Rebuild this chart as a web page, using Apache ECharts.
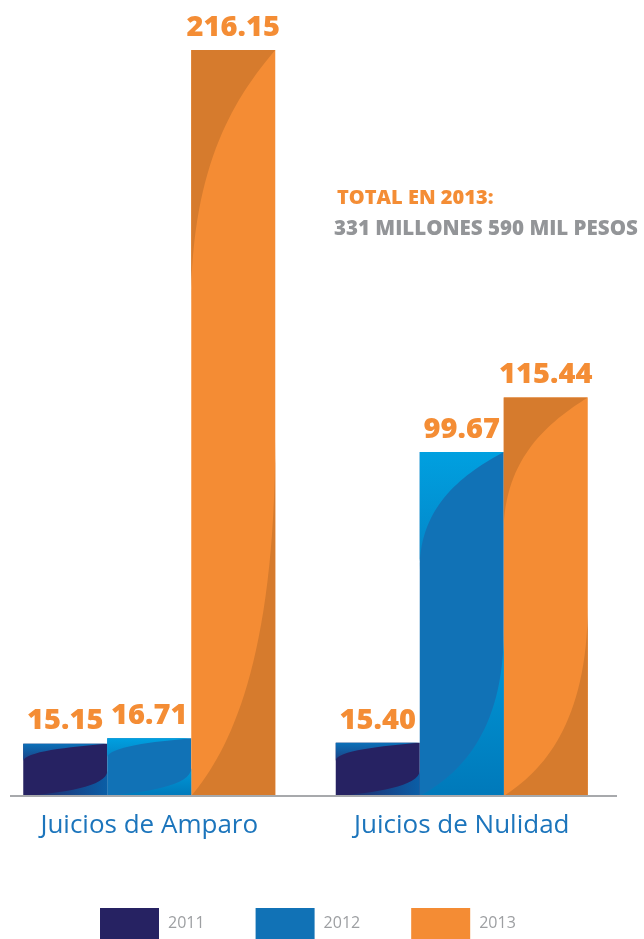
<!DOCTYPE html>
<html>
<head>
<meta charset="utf-8">
<script src="https://cdn.jsdelivr.net/npm/echarts@6/dist/echarts.min.js"></script>
<style>
  html, body { margin: 0; padding: 0; background: #fff; }
  #chart { width: 644px; height: 939px; }
</style>
</head>
<body>
<div id="chart"></div>
<script>
// datos (millones de pesos)
const categories = ['Juicios de Amparo', 'Juicios de Nulidad']
const years = ['2011', '2012', '2013']
const values2011 = [15.15, 15.40]
const values2012 = [16.71, 99.67]
const values2013 = [216.15, 115.44]
const seriesValues = [values2011, values2012, values2013]

const mainColors = ['#262262', '#1172b6', '#f48c34']
// colores de las esquinas curvas: [arriba-inicio, arriba-fin, abajo-inicio, abajo-fin]
const cornerColors = [
  ['#0b70b8', '#1c3f82', '#262262', '#0a5ea6'],
  ['#00a0e0', '#0384c6', '#0099d9', '#0079ba'],
  ['#d67b2d', '#d67b2d', '#d67b2d', '#d67b2d']
]
const labelColor = '#f48d35'
const BAR_W = 84

function grad(c0, c1, horizontal) {
  return new echarts.graphic.LinearGradient(0, 0, horizontal ? 1 : 0, horizontal ? 0 : 1, [
    { offset: 0, color: c0 },
    { offset: 1, color: c1 }
  ])
}

// dibuja las esquinas curvas encima de la barra
function makeOverlay(k) {
  return function (params, api) {
    const top = api.coord([api.value(0), api.value(1)])
    const bot = api.coord([api.value(0), 0])
    const cx = top[0] + (k - 1) * BAR_W
    const x0 = cx - BAR_W / 2
    const x1 = cx + BAR_W / 2
    const y0 = top[1]
    const y1 = bot[1]
    const h = y1 - y0
    const w = x1 - x0
    const c = cornerColors[k]
    const topPath = 'M' + x0 + ' ' + y0 + ' L' + x1 + ' ' + y0 +
      ' C' + (x1 - w * 0.45) + ' ' + (y0 + h * 0.06) + ' ' + x0 + ' ' + (y0 + h * 0.15) + ' ' + x0 + ' ' + (y0 + h * 0.34) + ' Z'
    const botPath = 'M' + x1 + ' ' + y1 + ' L' + x0 + ' ' + y1 +
      ' C' + (x0 + w * 0.45) + ' ' + (y1 - h * 0.06) + ' ' + x1 + ' ' + (y1 - h * 0.18) + ' ' + x1 + ' ' + (y1 - h * 0.48) + ' Z'
    return {
      type: 'group',
      children: [
        { type: 'path', shape: { pathData: topPath }, style: { fill: grad(c[0], c[1], false) } },
        { type: 'path', shape: { pathData: botPath }, style: { fill: grad(c[2], c[3], k === 0) } }
      ]
    }
  }
}

const chart = echarts.init(document.getElementById('chart'))

const barSeries = years.map((y, k) => ({
  name: y,
  type: 'bar',
  data: seriesValues[k],
  barWidth: BAR_W,
  barGap: '0%',
  itemStyle: { color: mainColors[k] },
  label: {
    show: true,
    position: 'top',
    distance: 8,
    formatter: (p) => p.value.toFixed(2),
    color: labelColor,
    fontFamily: 'Open Sans',
    fontWeight: 800,
    fontSize: 29
  },
  z: 2
}))

const overlaySeries = years.map((y, k) => ({
  name: 'curva ' + y,
  type: 'custom',
  silent: true,
  renderItem: makeOverlay(k),
  data: seriesValues[k].map((v, i) => [i, v]),
  encode: { x: 0, y: 1 },
  z: 3
}))

const option = {
  animation: false,
  grid: { left: -7, right: 26, top: 50, bottom: 143, outerBoundsMode: 'none', containLabel: false },
  legend: {
    data: years,
    left: 100,
    top: 908,
    padding: 0,
    itemWidth: 59,
    itemHeight: 31,
    itemGap: 51,
    icon: 'rect',
    textStyle: {
      color: '#9d9fa2',
      fontFamily: 'Open Sans',
      fontSize: 16,
      padding: [20, 0, 0, 4]
    }
  },
  xAxis: {
    type: 'category',
    data: categories,
    axisLine: { show: false },
    axisTick: { show: false },
    axisLabel: {
      color: '#1c75bc',
      fontFamily: 'Open Sans',
      fontSize: 26,
      margin: 17
    }
  },
  yAxis: {
    type: 'value',
    min: 0,
    max: 216.15,
    show: false,
    splitLine: { show: false }
  },
  graphic: [
    {
      type: 'line',
      shape: { x1: 10, y1: 796, x2: 617, y2: 796 },
      style: { stroke: '#a7a9ac', lineWidth: 2 },
      z: 10
    },
    {
      type: 'text',
      left: 337,
      top: 188,
      style: {
        text: 'TOTAL EN 2013:',
        fill: labelColor,
        font: '800 20px "Open Sans"'
      }
    },
    {
      type: 'text',
      left: 334,
      top: 219,
      style: {
        text: '331 MILLONES 590 MIL PESOS',
        fill: '#939598',
        font: '800 20.5px "Open Sans"'
      }
    }
  ],
  series: barSeries.concat(overlaySeries)
}

chart.setOption(option)
</script>
</body>
</html>
